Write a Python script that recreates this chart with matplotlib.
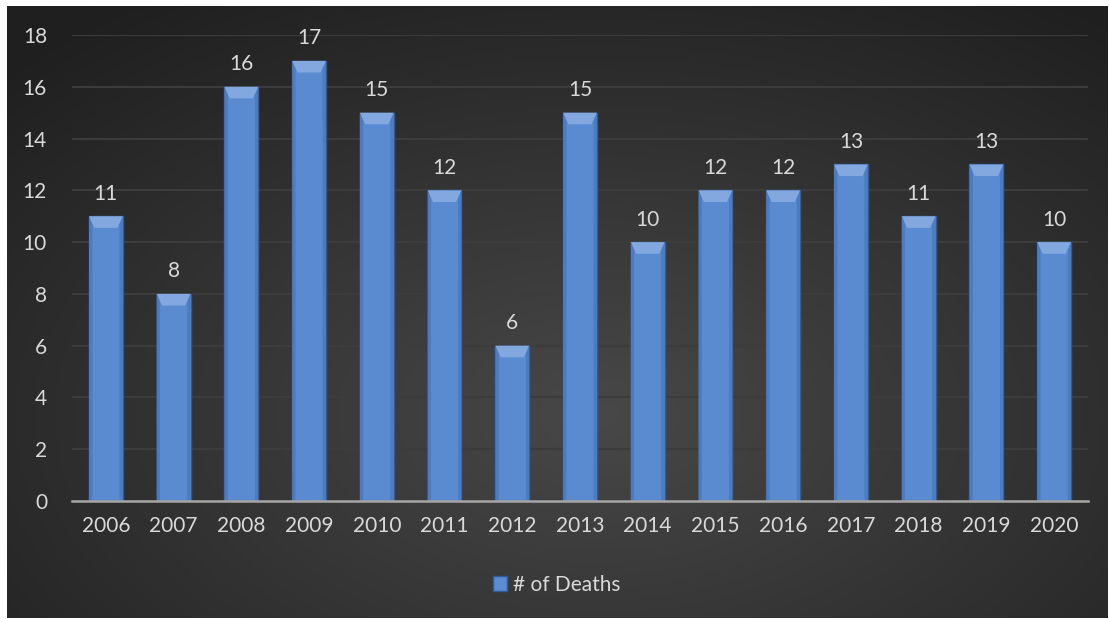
import numpy as np
import matplotlib.pyplot as plt
from matplotlib.patches import Polygon

years = ['2006', '2007', '2008', '2009', '2010', '2011', '2012', '2013',
         '2014', '2015', '2016', '2017', '2018', '2019', '2020']
deaths = [11, 8, 16, 17, 15, 12, 6, 15, 10, 12, 12, 13, 11, 13, 10]

plt.rcParams['font.family'] = ['Lato', 'DejaVu Sans']
txt = '#d9d9d9'
fs = 15

fig = plt.figure(figsize=(11.09, 6.19), dpi=100, facecolor='white')

# dark panel with radial gradient
bg = fig.add_axes([7/1109, 1/619, 1101/1109, 612/619])
bg.set_axis_off()
yy, xx = np.mgrid[0:300, 0:540]
r = np.sqrt(((xx - 290) / 540) ** 2 + ((yy - 200) / 330) ** 2)
r = np.clip(r / 0.75, 0, 1)
inner = np.array([0x48, 0x48, 0x48]) / 255
outer = np.array([0x1f, 0x1f, 0x1f]) / 255
img = inner[None, None, :] * (1 - r[..., None]) + outer[None, None, :] * r[..., None]
bg.imshow(img, aspect='auto', origin='upper', interpolation='bilinear')

ax = fig.add_axes([72/1109, 1 - 501/619, (1088 - 72)/1109, (501 - 35)/619])
ax.set_facecolor('none')
x = np.arange(len(years))
w = 0.5
bars = ax.bar(x, deaths, width=w, color='#5a8ad0', edgecolor='#2f5b94',
              linewidth=1.0, zorder=3, label='# of Deaths')

# bevel on top and sides of each bar
bev = 0.45
for xi, v in zip(x, deaths):
    ax.add_patch(Polygon([[xi - w/2, v], [xi + w/2, v],
                          [xi + w/2 - 0.08, v - bev], [xi - w/2 + 0.08, v - bev]],
                         closed=True, facecolor='#82a8df', edgecolor='none', zorder=4))
    ax.add_patch(Polygon([[xi - w/2, v], [xi - w/2 + 0.05, v - bev * 0.7],
                          [xi - w/2 + 0.05, 0], [xi - w/2, 0]],
                         closed=True, facecolor='#4c7bbf', edgecolor='none', zorder=4))
    ax.add_patch(Polygon([[xi + w/2, v], [xi + w/2 - 0.05, v - bev * 0.7],
                          [xi + w/2 - 0.05, 0], [xi + w/2, 0]],
                         closed=True, facecolor='#4c7bbf', edgecolor='none', zorder=4))
    ax.annotate(str(v), (xi, v), xytext=(0, 9), textcoords='offset points',
                ha='center', va='bottom', color=txt, fontsize=fs)

ax.set_xlim(-0.5, len(years) - 0.5)
ax.set_ylim(0, 18)
ax.set_yticks(range(0, 19, 2))
ax.set_xticks(x)
ax.set_xticklabels(years)
ax.tick_params(axis='both', length=0, colors=txt, labelsize=fs)
ax.tick_params(axis='x', pad=11)
ax.tick_params(axis='y', pad=18)
ax.grid(axis='y', color='#3c3c3c', linewidth=1.5, zorder=0)
for s in ['top', 'right', 'left']:
    ax.spines[s].set_visible(False)
ax.spines['bottom'].set_color('#a6a6a6')
ax.spines['bottom'].set_linewidth(1.8)
ax.spines['bottom'].set_zorder(5)

leg = fig.legend(handles=[bars], loc='center', bbox_to_anchor=(0.502, 1 - 585/619),
                 frameon=False, fontsize=fs, handlelength=0.7, handleheight=0.7,
                 handletextpad=0.3, labelcolor=txt)

fig.savefig('out.png', dpi=100, facecolor='white')
